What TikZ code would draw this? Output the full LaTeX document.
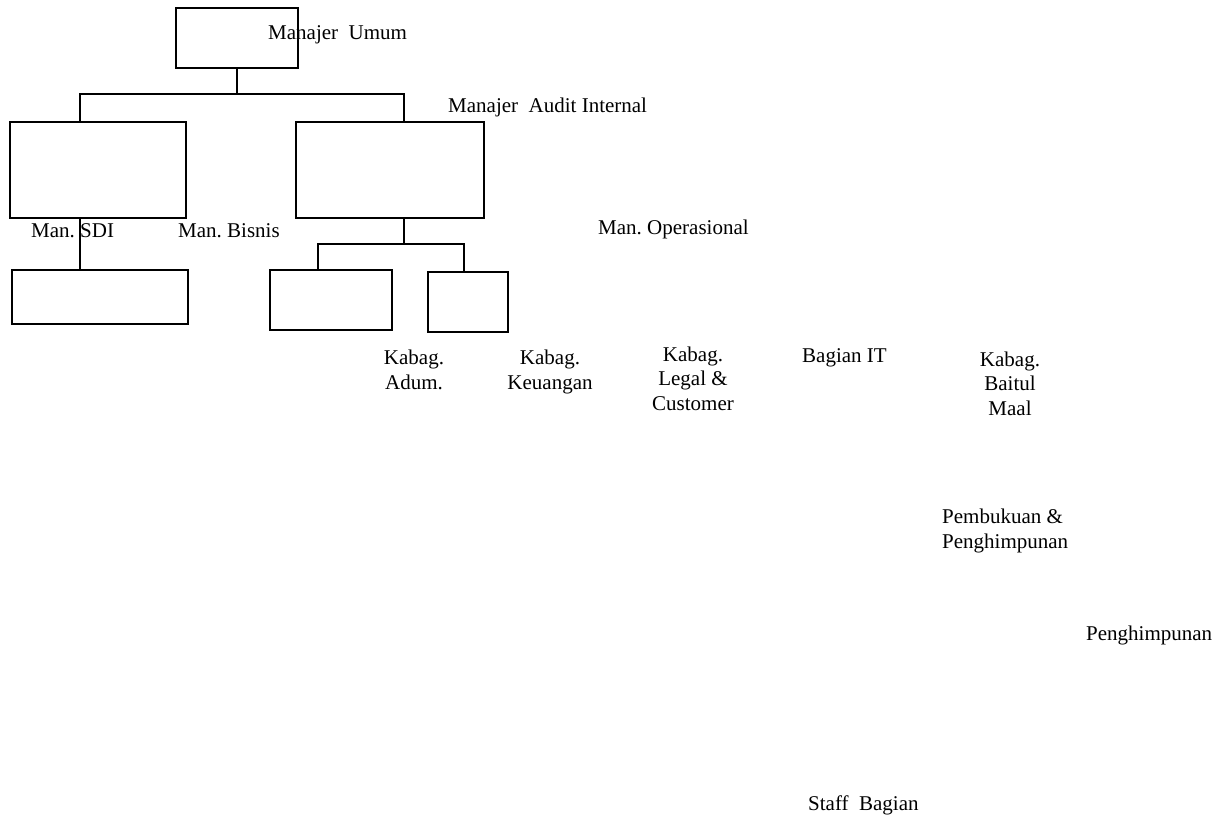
\documentclass[tikz,border=0pt]{standalone}
\usepackage{fontspec}
\setmainfont{Liberation Serif}
\usetikzlibrary{positioning}

\tikzset{
    orgbox/.style={draw, line width=1.8pt, inner sep=0pt},
    link/.style={line width=1.8pt},
    lbl/.style={inner sep=0pt, anchor=base west},
    clbl/.style={inner sep=0pt, anchor=base, align=center}
}

\begin{document}
\frenchspacing
\begin{tikzpicture}[x=1pt, y=-1pt, every node/.style={font=\fontsize{21}{24.5}\selectfont}]
            % frame
            \useasboundingbox (0,0) rectangle (1232,817);

            % boxes
            \node[orgbox, minimum width=122pt, minimum height=60pt] (umum) at (237,38) {};
            \node[orgbox, minimum width=176pt, minimum height=96pt] (sdi) at (98,170) {};
            \node[orgbox, minimum width=188pt, minimum height=96pt] (audit) at (390,170) {};
            \node[orgbox, minimum width=176pt, minimum height=54pt] (bisnis) at (100,297) {};
            \node[orgbox, minimum width=122pt, minimum height=60pt] (adum) at (331,300) {};
            \node[orgbox, minimum width=80pt, minimum height=60pt] (keu) at (468,302) {};

            % junctions (bottom baseline of multi-line labels is used below)
            \coordinate (top bus) at (237,94);
            \coordinate (sdi in) at (80,122);
            \coordinate (audit in) at (404,122);
            \coordinate (sdi out) at (80,218);
            \coordinate (bisnis in) at (80,270);
            \coordinate (audit out) at (404,218);
            \coordinate (low bus) at (404,244);
            \coordinate (adum in) at (318,270);
            \coordinate (keu in) at (464,272);

            % connectors
            \draw[link] (umum.south) -- (top bus);
            \draw[link] (sdi in) |- (top bus) -| (audit in);
            \draw[link] (sdi out) -- (bisnis in);
            \draw[link] (audit out) -- (low bus);
            \draw[link] (adum in) |- (low bus) -| (keu in);

            % labels
            \node[lbl] (t umum) at (268,39) {Manajer\ \ Umum};
            \node[lbl] (t audit) at (448,112) {Manajer\ \ Audit Internal};
            \node[lbl] (t sdi) at (31,237) {Man. SDI};
            \node[lbl] (t bisnis) at (178,237) {Man. Bisnis};
            \node[lbl] (t ops) at (598,234) {Man. Operasional};
            \node[clbl] (t adum) at (414,389) {Kabag.\\Adum.};
            \node[clbl] (t keu) at (550,389) {Kabag.\\Keuangan};
            \node[clbl] (t legal) at (693,410) {Kabag.\\Legal \&\\Customer};
            \node[lbl] (t it) at (802,362) {Bagian IT};
            \node[clbl] (t maal) at (1010,415) {Kabag.\\Baitul\\Maal};
            \node[lbl, align=left] (t buku) at (942,548) {Pembukuan \&\\Penghimpunan};
            \node[lbl] (t himpun) at (1086,640) {Penghimpunan};
            \node[lbl] (t staff) at (808,810) {Staff\ \ Bagian};
\end{tikzpicture}
\end{document}
